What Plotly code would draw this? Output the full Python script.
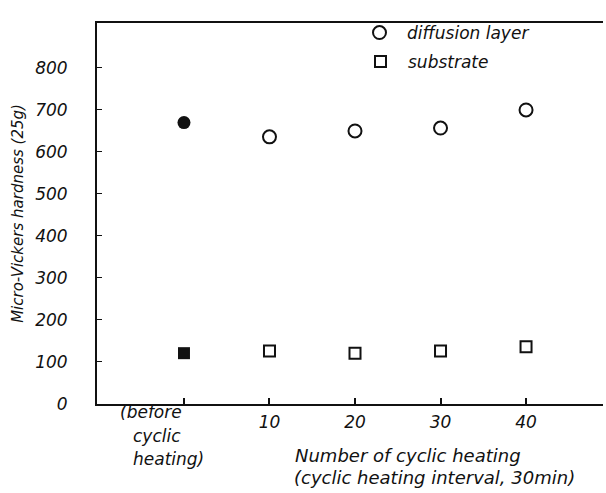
import plotly.graph_objects as go

# Data
x_pos = [0, 1, 2, 3, 4]
x_ticklabels = ["", "10", "20", "30", "40"]
before_lines = ["(before", "cyclic", "heating)"]

diff_before = [670]
diff_cyclic = [636, 650, 657, 700]
sub_before = [121]
sub_cyclic = [126, 121, 126, 136]

y_ticks = [0, 100, 200, 300, 400, 500, 600, 700, 800]

FONT = "DejaVu Sans"
ink = "#111111"
FS = 17

def f(size=FS):
    return dict(family=FONT, size=size, color=ink, style="italic")

fig = go.Figure()
fig.add_trace(go.Scatter(x=x_pos[:1], y=diff_before, mode="markers", showlegend=False,
                         marker=dict(symbol="circle", size=13, color=ink)))
fig.add_trace(go.Scatter(x=x_pos[1:], y=diff_cyclic, mode="markers", name="diffusion layer",
                         legend="legend",
                         marker=dict(symbol="circle-open", size=13, color=ink, line=dict(width=2, color=ink))))
fig.add_trace(go.Scatter(x=x_pos[:1], y=sub_before, mode="markers", showlegend=False,
                         marker=dict(symbol="square", size=12, color=ink)))
fig.add_trace(go.Scatter(x=x_pos[1:], y=sub_cyclic, mode="markers", name="substrate",
                         legend="legend2",
                         marker=dict(symbol="square-open", size=11, color=ink, line=dict(width=2, color=ink))))

H = 381.0
W = 506.0
fig.update_layout(
    width=606, height=493,
    margin=dict(l=97, r=3, t=23, b=89),
    paper_bgcolor="white", plot_bgcolor="white",
    font=f(),
    legend=dict(x=(352 - 97) / W, y=1 + (23 - 15) / H, xanchor="left", yanchor="top",
                bgcolor="rgba(0,0,0,0)", font=f(), itemwidth=45),
    legend2=dict(x=(353 - 97) / W, y=1 - (44 - 23) / H, xanchor="left", yanchor="top",
                 bgcolor="rgba(0,0,0,0)", font=f(), itemwidth=45),
    xaxis=dict(range=[-1.017, 4.9], tickvals=x_pos, ticktext=x_ticklabels,
               ticks="inside", ticklen=6, tickwidth=1.5, tickcolor=ink,
               showline=True, linecolor=ink, linewidth=2, mirror=True,
               showgrid=False, zeroline=False, ticklabelstandoff=2,
               tickfont=f()),
    yaxis=dict(range=[0, 907], tickvals=y_ticks,
               ticks="inside", ticklen=5, tickwidth=1, tickcolor=ink,
               showline=True, linecolor=ink, linewidth=2,
               showgrid=False, zeroline=False, ticklabelstandoff=24,
               tickfont=f(),
               title=dict(text="Micro-Vickers hardness (25g)", standoff=8, font=f(15))),
)

before_x = [118, 131, 131]
before_y = [412, 436, 459]
for t, px, py in zip(before_lines, before_x, before_y):
    fig.add_annotation(xref="paper", yref="paper", x=(px - 97) / W, y=-(py - 404) / H,
                       xanchor="left", yanchor="middle", showarrow=False, text=t, font=f())

fig.add_annotation(xref="paper", yref="paper", x=(408 - 97) / W, y=-(455 - 404) / H,
                   xanchor="center", yanchor="middle", showarrow=False,
                   text="Number of cyclic heating", font=f(18))
fig.add_annotation(xref="paper", yref="paper", x=(434 - 97) / W, y=-(477 - 404) / H,
                   xanchor="center", yanchor="middle", showarrow=False,
                   text="(cyclic heating interval, 30min)", font=f(18))

fig.write_html("out.html")
